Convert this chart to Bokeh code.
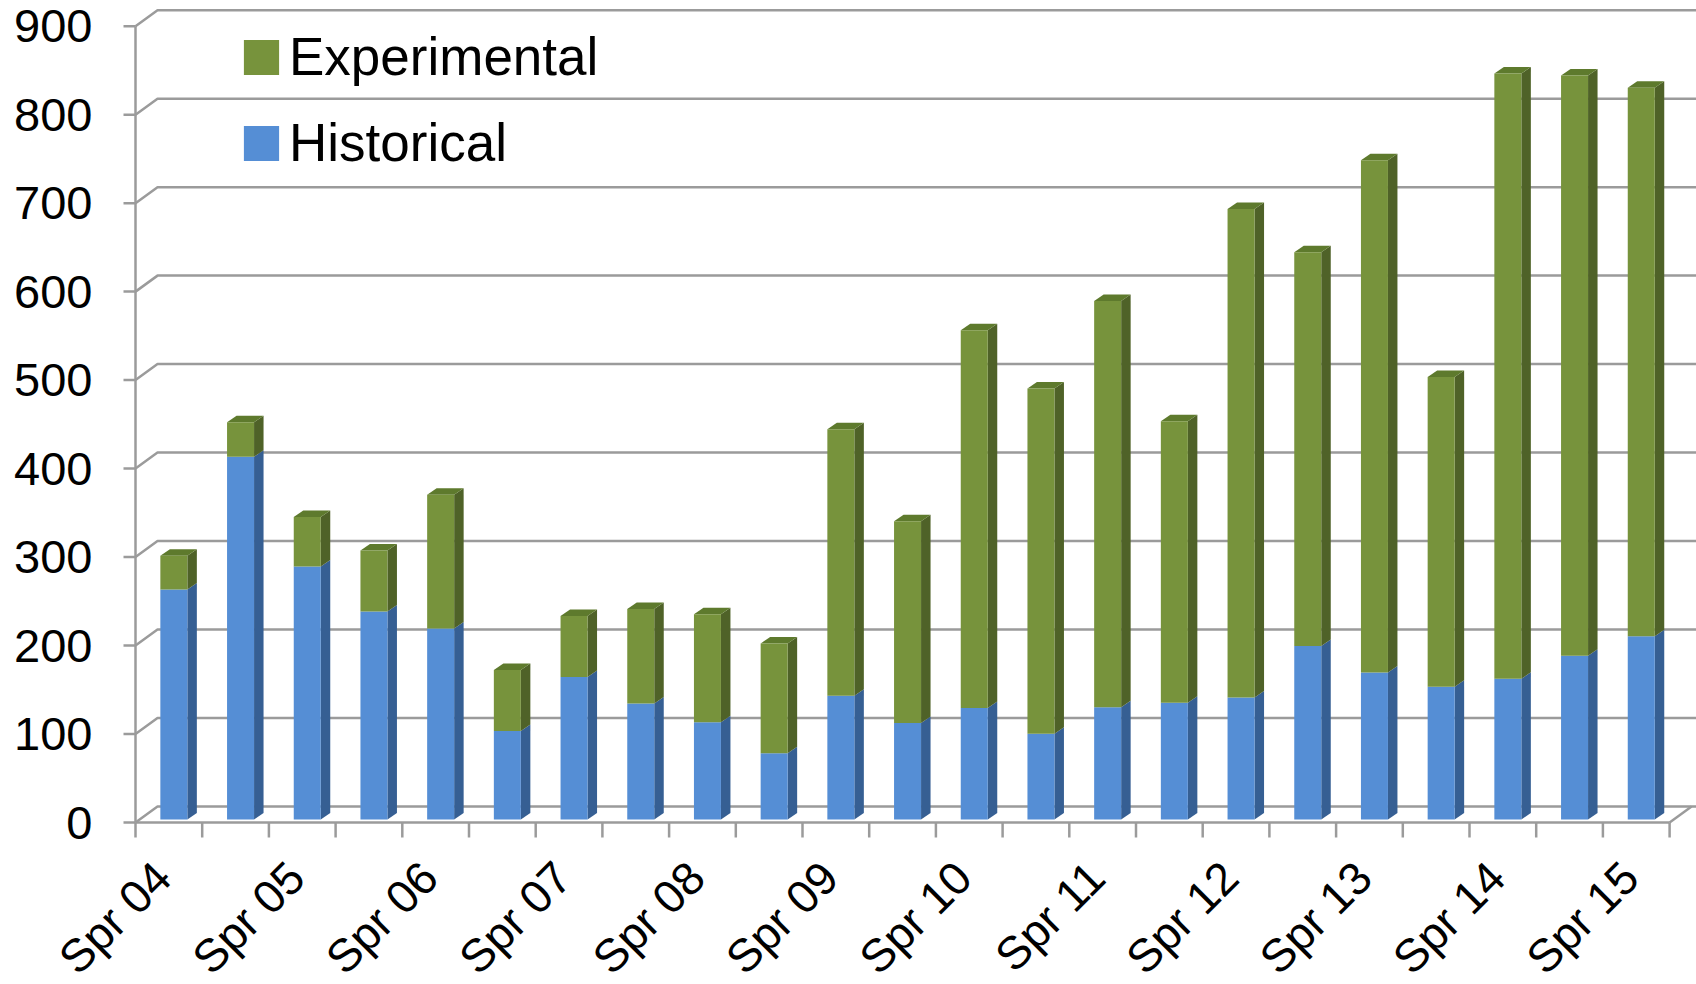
import math
from bokeh.plotting import figure
from bokeh.models import Range1d, Legend, LegendItem
from bokeh.core.properties import value
from bokeh.embed import file_html
from bokeh.resources import INLINE

# ---------------- data ----------------
terms = ["Spr 04", "Fall 04", "Spr 05", "Fall 05", "Spr 06", "Fall 06", "Spr 07", "Fall 07",
         "Spr 08", "Fall 08", "Spr 09", "Fall 09", "Spr 10", "Fall 10", "Spr 11", "Fall 11",
         "Spr 12", "Fall 12", "Spr 13", "Fall 13", "Spr 14", "Fall 14", "Spr 15"]
historical = [260, 410, 286, 235, 216, 100, 161, 131, 110, 75, 140, 109,
              126, 97, 127, 132, 138, 196, 166, 150, 159, 185, 207]
experimental = [38, 39, 56, 69, 151, 69, 69, 107, 122, 124, 301, 228,
                427, 390, 459, 318, 552, 445, 579, 350, 684, 656, 620]
y_ticks = [0, 100, 200, 300, 400, 500, 600, 700, 800, 900]
y_tick_labels = [str(v) for v in y_ticks]

# ---------------- style / layout ----------------
FONT = "Liberation Sans"
GRAY = "#9b9b9b"
GREEN, GREEN_SIDE, GREEN_TOP = "#77933C", "#4F6228", "#5E7A2D"
BLUE, BLUE_SIDE = "#558ED5", "#365F93"

W, H = 1696, 984
LEFT = 135          # px: front vertical axis
FLOOR = 822         # px: front floor line (value 0)
PXX = 66.7          # px per category
PXY = 0.8848        # px per value unit

n = len(terms)
X0 = -0.5
WALL_DX, WALL_DY = 22 / PXX, 16 / PXY      # depth of the back wall
BAR_OFF, BAR_W = 5 / PXX, 27 / PXX         # bar front face
DX, DY = 9.5 / PXX, 6.5 / PXY              # bar depth
BASE = 3 / PXY
TICK_LEN_X = 15 / PXY                      # category tick marks
TICK_LEN_Y = 12 / PXX                      # value tick marks
YLAB_GAP = 43 / PXX                        # value labels right edge
LAB_DX, LAB_DY = -6 / PXX, 47 / PXY        # category label anchor offset

x_start = X0 - LEFT / PXX
x_end = X0 + (W - LEFT) / PXX
p = figure(width=W, height=H, output_backend="svg", toolbar_location=None,
           x_range=Range1d(x_start, x_end),
           y_range=Range1d(-(H - FLOOR) / PXY, FLOOR / PXY),
           min_border=0)
p.outline_line_color = None
p.xgrid.visible = False
p.ygrid.visible = False
p.xaxis.visible = False
p.yaxis.visible = False
p.background_fill_color = "white"

# back-wall gridlines joined to the front axis
gx, gy = [], []
for v in y_ticks:
    gx.append([X0, X0 + WALL_DX, x_end])
    gy.append([v, v + WALL_DY, v + WALL_DY])
gx.append([X0 + n, X0 + n + WALL_DX])
gy.append([0, WALL_DY])
p.multi_line(gx, gy, line_color=GRAY, line_width=2.5)
# front floor edge and front value axis
p.segment(x0=[X0, X0], y0=[0, 0], x1=[X0 + n, X0], y1=[0, y_ticks[-1]],
          line_color=GRAY, line_width=2.5)
# category tick marks
bx = [X0 + k for k in range(n + 1)]
p.segment(x0=bx, y0=[0] * len(bx), x1=bx, y1=[-TICK_LEN_X] * len(bx),
          line_color=GRAY, line_width=2.5)
# value tick marks and labels
p.segment(x0=[X0 - TICK_LEN_Y] * len(y_ticks), y0=y_ticks, x1=[X0] * len(y_ticks), y1=y_ticks,
          line_color=GRAY, line_width=2.5)
p.text(x=[X0 - YLAB_GAP] * len(y_ticks), y=y_ticks, text=y_tick_labels,
       text_align="right", text_baseline="middle",
       text_font=value(FONT), text_font_size="47px", text_color="black")

# 3-D style stacked bars
xc = [i + BAR_OFF for i in range(n)]
hb = [BASE + h for h in historical]
tb = [BASE + h + e for h, e in zip(historical, experimental)]

def side(b0, b1):
    xs, ys = [], []
    for i in range(n):
        xr = xc[i] + BAR_W / 2
        xs.append([xr, xr + DX, xr + DX, xr])
        ys.append([b0[i], b0[i] + DY, b1[i] + DY, b1[i]])
    return xs, ys

sx, sy = side([BASE] * n, hb)
p.patches(sx, sy, fill_color=BLUE_SIDE, line_color=None)
sx, sy = side(hb, tb)
p.patches(sx, sy, fill_color=GREEN_SIDE, line_color=None)
txs, tys = [], []
for i in range(n):
    xl, xr = xc[i] - BAR_W / 2, xc[i] + BAR_W / 2
    txs.append([xl, xr, xr + DX, xl + DX])
    tys.append([tb[i], tb[i], tb[i] + DY, tb[i] + DY])
p.patches(txs, tys, fill_color=GREEN_TOP, line_color=None)

r_hist = p.vbar(x=xc, width=BAR_W, bottom=BASE, top=hb, fill_color=BLUE, line_color=None)
r_exp = p.vbar(x=xc, width=BAR_W, bottom=hb, top=tb, fill_color=GREEN, line_color=None)

# category labels (every other term), rotated 45 degrees
lab_idx = list(range(0, n, 2))
p.text(x=[i + LAB_DX for i in lab_idx], y=[-LAB_DY] * len(lab_idx),
       text=[terms[i] for i in lab_idx], angle=math.pi / 4,
       text_align="right", text_baseline="middle",
       text_font=value(FONT), text_font_size="46px", text_color="black")

legend = Legend(items=[LegendItem(label="Experimental", renderers=[r_exp]),
                       LegendItem(label="Historical", renderers=[r_hist])],
                location=(239, 811), glyph_width=44, glyph_height=44, label_height=60,
                spacing=25, padding=0, margin=0, label_standoff=6,
                label_text_font=FONT, label_text_font_size="53px", label_text_color="black",
                border_line_color=None, background_fill_alpha=0)
p.add_layout(legend)

open("out.html", "w").write(file_html(p, INLINE))
